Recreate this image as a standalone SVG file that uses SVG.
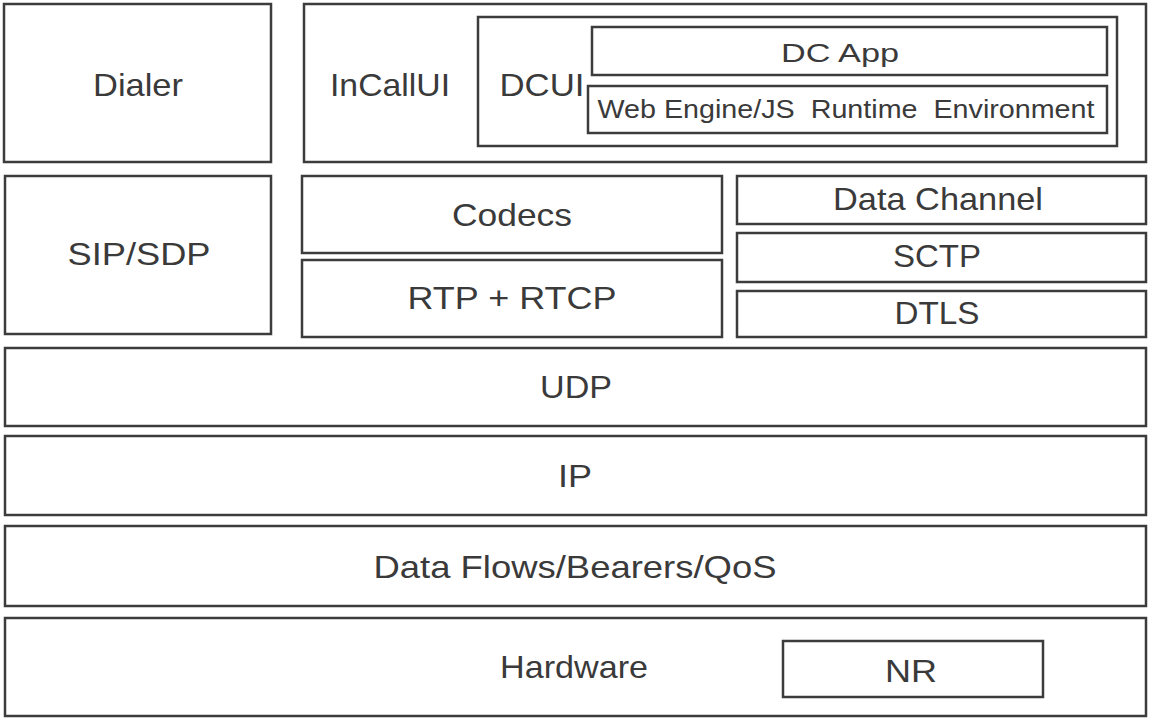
<svg xmlns="http://www.w3.org/2000/svg" width="1150" height="720" viewBox="0 0 1150 720">
<style>
rect{fill:#fff;stroke:#3c3c3c;stroke-width:2.5}
text{font-family:"Liberation Sans",Arial,sans-serif;fill:#3a3a3a;font-size:32px;text-anchor:middle}
.s{font-size:26px}
</style>
<rect x="0" y="0" width="1150" height="720" style="stroke:none"/>
<g id="dialer"><rect x="4" y="4" width="267" height="158"/><text x="138" y="96" textLength="90" lengthAdjust="spacingAndGlyphs">Dialer</text></g>
<g id="incallui"><rect x="304" y="4" width="842" height="158"/><text x="390" y="96" textLength="120" lengthAdjust="spacingAndGlyphs">InCallUI</text></g>
<g id="dcui"><rect x="478" y="17" width="639" height="129"/><text x="542" y="96" textLength="85" lengthAdjust="spacingAndGlyphs">DCUI</text></g>
<g id="dcapp"><rect x="592" y="27" width="515" height="48"/><text class="s" x="840" y="62" textLength="118" lengthAdjust="spacingAndGlyphs">DC App</text></g>
<g id="webengine"><rect x="588" y="86" width="519" height="47"/><text class="s" x="846" y="118" textLength="497" lengthAdjust="spacingAndGlyphs" xml:space="preserve">Web Engine/JS  Runtime  Environment</text></g>
<g id="sipsdp"><rect x="5" y="176" width="266" height="158"/><text x="139" y="265" textLength="143" lengthAdjust="spacingAndGlyphs">SIP/SDP</text></g>
<g id="codecs"><rect x="302" y="176" width="420" height="77"/><text x="512" y="226" textLength="120" lengthAdjust="spacingAndGlyphs">Codecs</text></g>
<g id="rtp"><rect x="302" y="260" width="420" height="77"/><text x="512" y="309" textLength="209" lengthAdjust="spacingAndGlyphs">RTP + RTCP</text></g>
<g id="datachannel"><rect x="737" y="176" width="409" height="48"/><text x="938" y="210" textLength="210" lengthAdjust="spacingAndGlyphs">Data Channel</text></g>
<g id="sctp"><rect x="737" y="233" width="409" height="49"/><text x="937" y="267" textLength="88" lengthAdjust="spacingAndGlyphs">SCTP</text></g>
<g id="dtls"><rect x="737" y="291" width="409" height="46"/><text x="937" y="324" textLength="85" lengthAdjust="spacingAndGlyphs">DTLS</text></g>
<g id="udp"><rect x="5" y="348" width="1141" height="78"/><text x="576" y="398" textLength="72" lengthAdjust="spacingAndGlyphs">UDP</text></g>
<g id="ip"><rect x="5" y="436" width="1141" height="79"/><text x="575" y="487" textLength="34" lengthAdjust="spacingAndGlyphs">IP</text></g>
<g id="dataflows"><rect x="5" y="526" width="1141" height="80"/><text x="575" y="578" textLength="403" lengthAdjust="spacingAndGlyphs">Data Flows/Bearers/QoS</text></g>
<g id="hardware"><rect x="5" y="618" width="1141" height="98"/><text x="574" y="678" textLength="148" lengthAdjust="spacingAndGlyphs">Hardware</text></g>
<g id="nr"><rect x="783" y="641" width="260" height="56"/><text x="911" y="682" textLength="52" lengthAdjust="spacingAndGlyphs">NR</text></g>
<g id="connectors"/>
</svg>
